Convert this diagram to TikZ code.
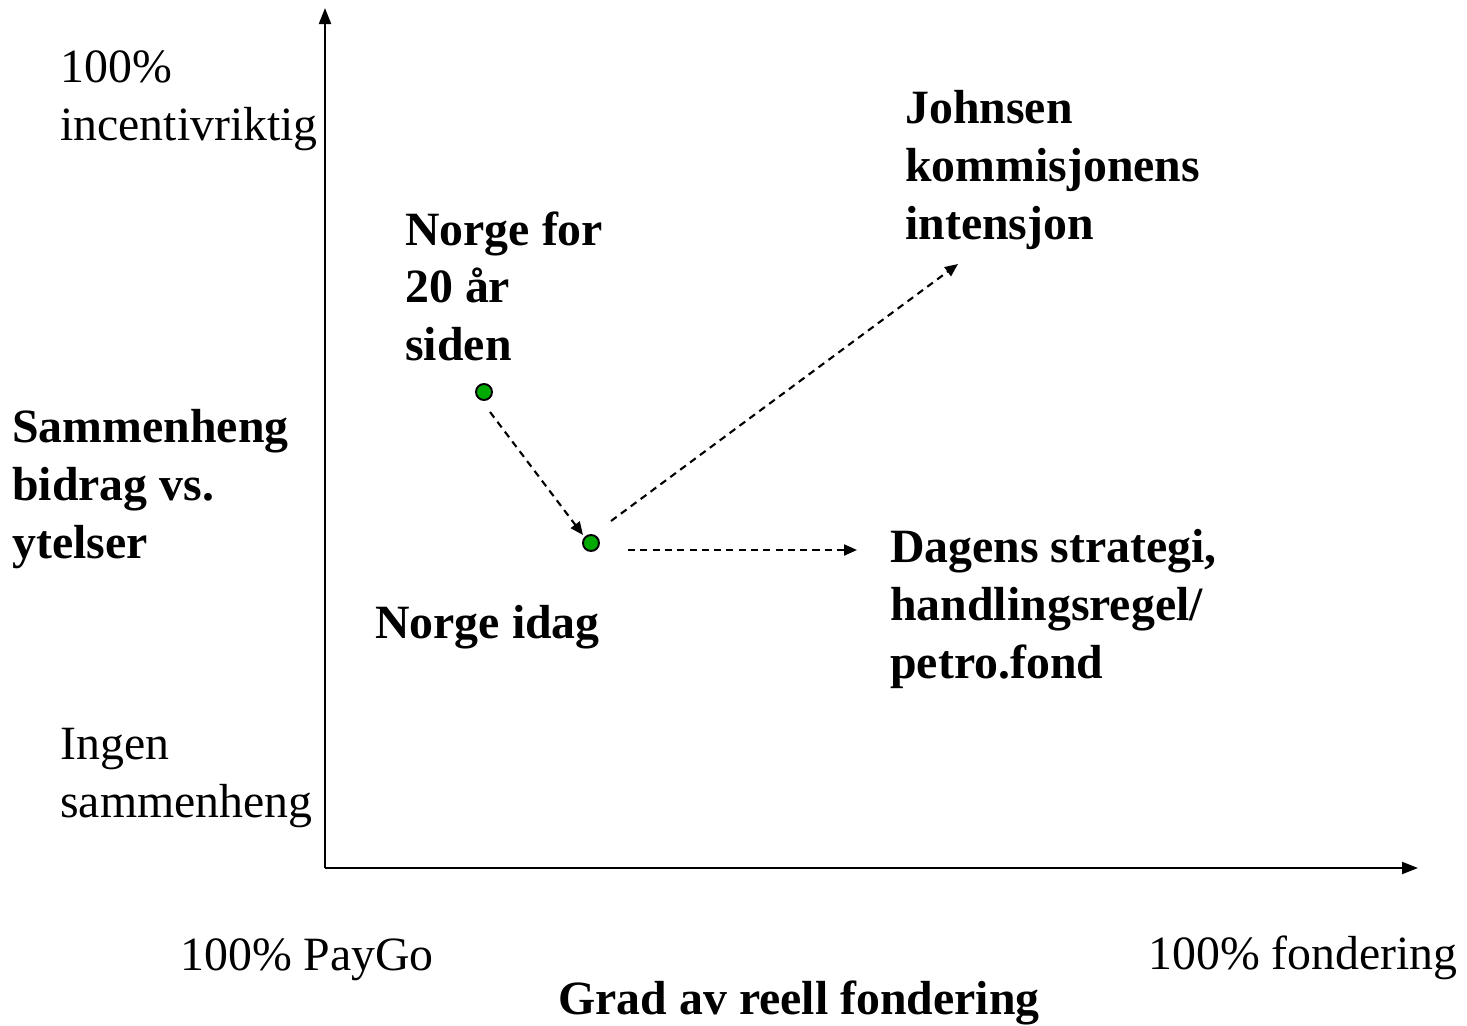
\documentclass[tikz,border=0pt]{standalone}
\usepackage{fontspec}
\setmainfont{Liberation Serif}
\usetikzlibrary{arrows.meta,calc}

\tikzset{
    txt/.style={anchor=north west, inner sep=0pt, align=left, font=\fontsize{27.2}{33}\selectfont},
    btxt/.style={txt, font=\fontsize{27.2}{33}\selectfont\bfseries},
    pt/.style={circle, draw, line width=1.1pt, fill={rgb,255:red,0;green,170;blue,0}, minimum size=0.32cm, inner sep=0pt},
    dasharrow/.style={dash pattern=on 4pt off 3pt, line width=1.2pt, -{Triangle[length=0.26cm, width=0.22cm]}}
}

\begin{document}
\begin{tikzpicture}[x=0.02cm, y=-0.02cm]
            \useasboundingbox (0,0) rectangle (1467,1025);

            \coordinate (O) at (325,868);
            \coordinate (ytop) at (325,8);
            \coordinate (xend) at (1418,868);
            \draw[line width=1.2pt, -{Triangle[length=0.32cm, width=0.24cm]}] (O) -- (ytop);
            \draw[line width=1.2pt, -{Triangle[length=0.32cm, width=0.24cm]}] (O) -- (xend);

            \node[txt] (top) at (60,50) {100\%\\incentivriktig};
            \node[txt] (bottom) at (60,728) {Ingen\\sammenheng};
            \node[btxt] (ylab) at (12,409) {Sammenheng\\bidrag vs.\\ytelser};

            \node[txt] (paygo) at (180,938) {100\% PayGo};
            \node[txt] (fond) at (1148,935) {100\% fondering};
            \node[btxt, anchor=north] (xlab) at (799,980) {Grad av reell fondering};

            \node[pt] (then) at (484,392) {};
            \node[pt] (now) at (591,543) {};
            \node[btxt] (thenlab) at (405,211) {Norge for\\20 år\\siden};
            \node[btxt] (nowlab) at (375,605) {Norge idag};
            \node[btxt] (johnsen) at (905,90) {Johnsen\\kommisjonens\\intensjon};
            \node[btxt] (dagens) at (890,529) {Dagens strategi,\\handlingsregel/\\petro.fond};

            \coordinate (jend) at (958,264);
            \coordinate (dend) at (857,550);
            \draw[dasharrow] ($(then)+(6,20)$) -- ($(now)+(-8,-8)$);
            \draw[dasharrow] ($(now)+(20,-22)$) -- (jend);
            \draw[dasharrow] ($(now)+(37,7)$) -- (dend);
        \end{tikzpicture}
\end{document}
